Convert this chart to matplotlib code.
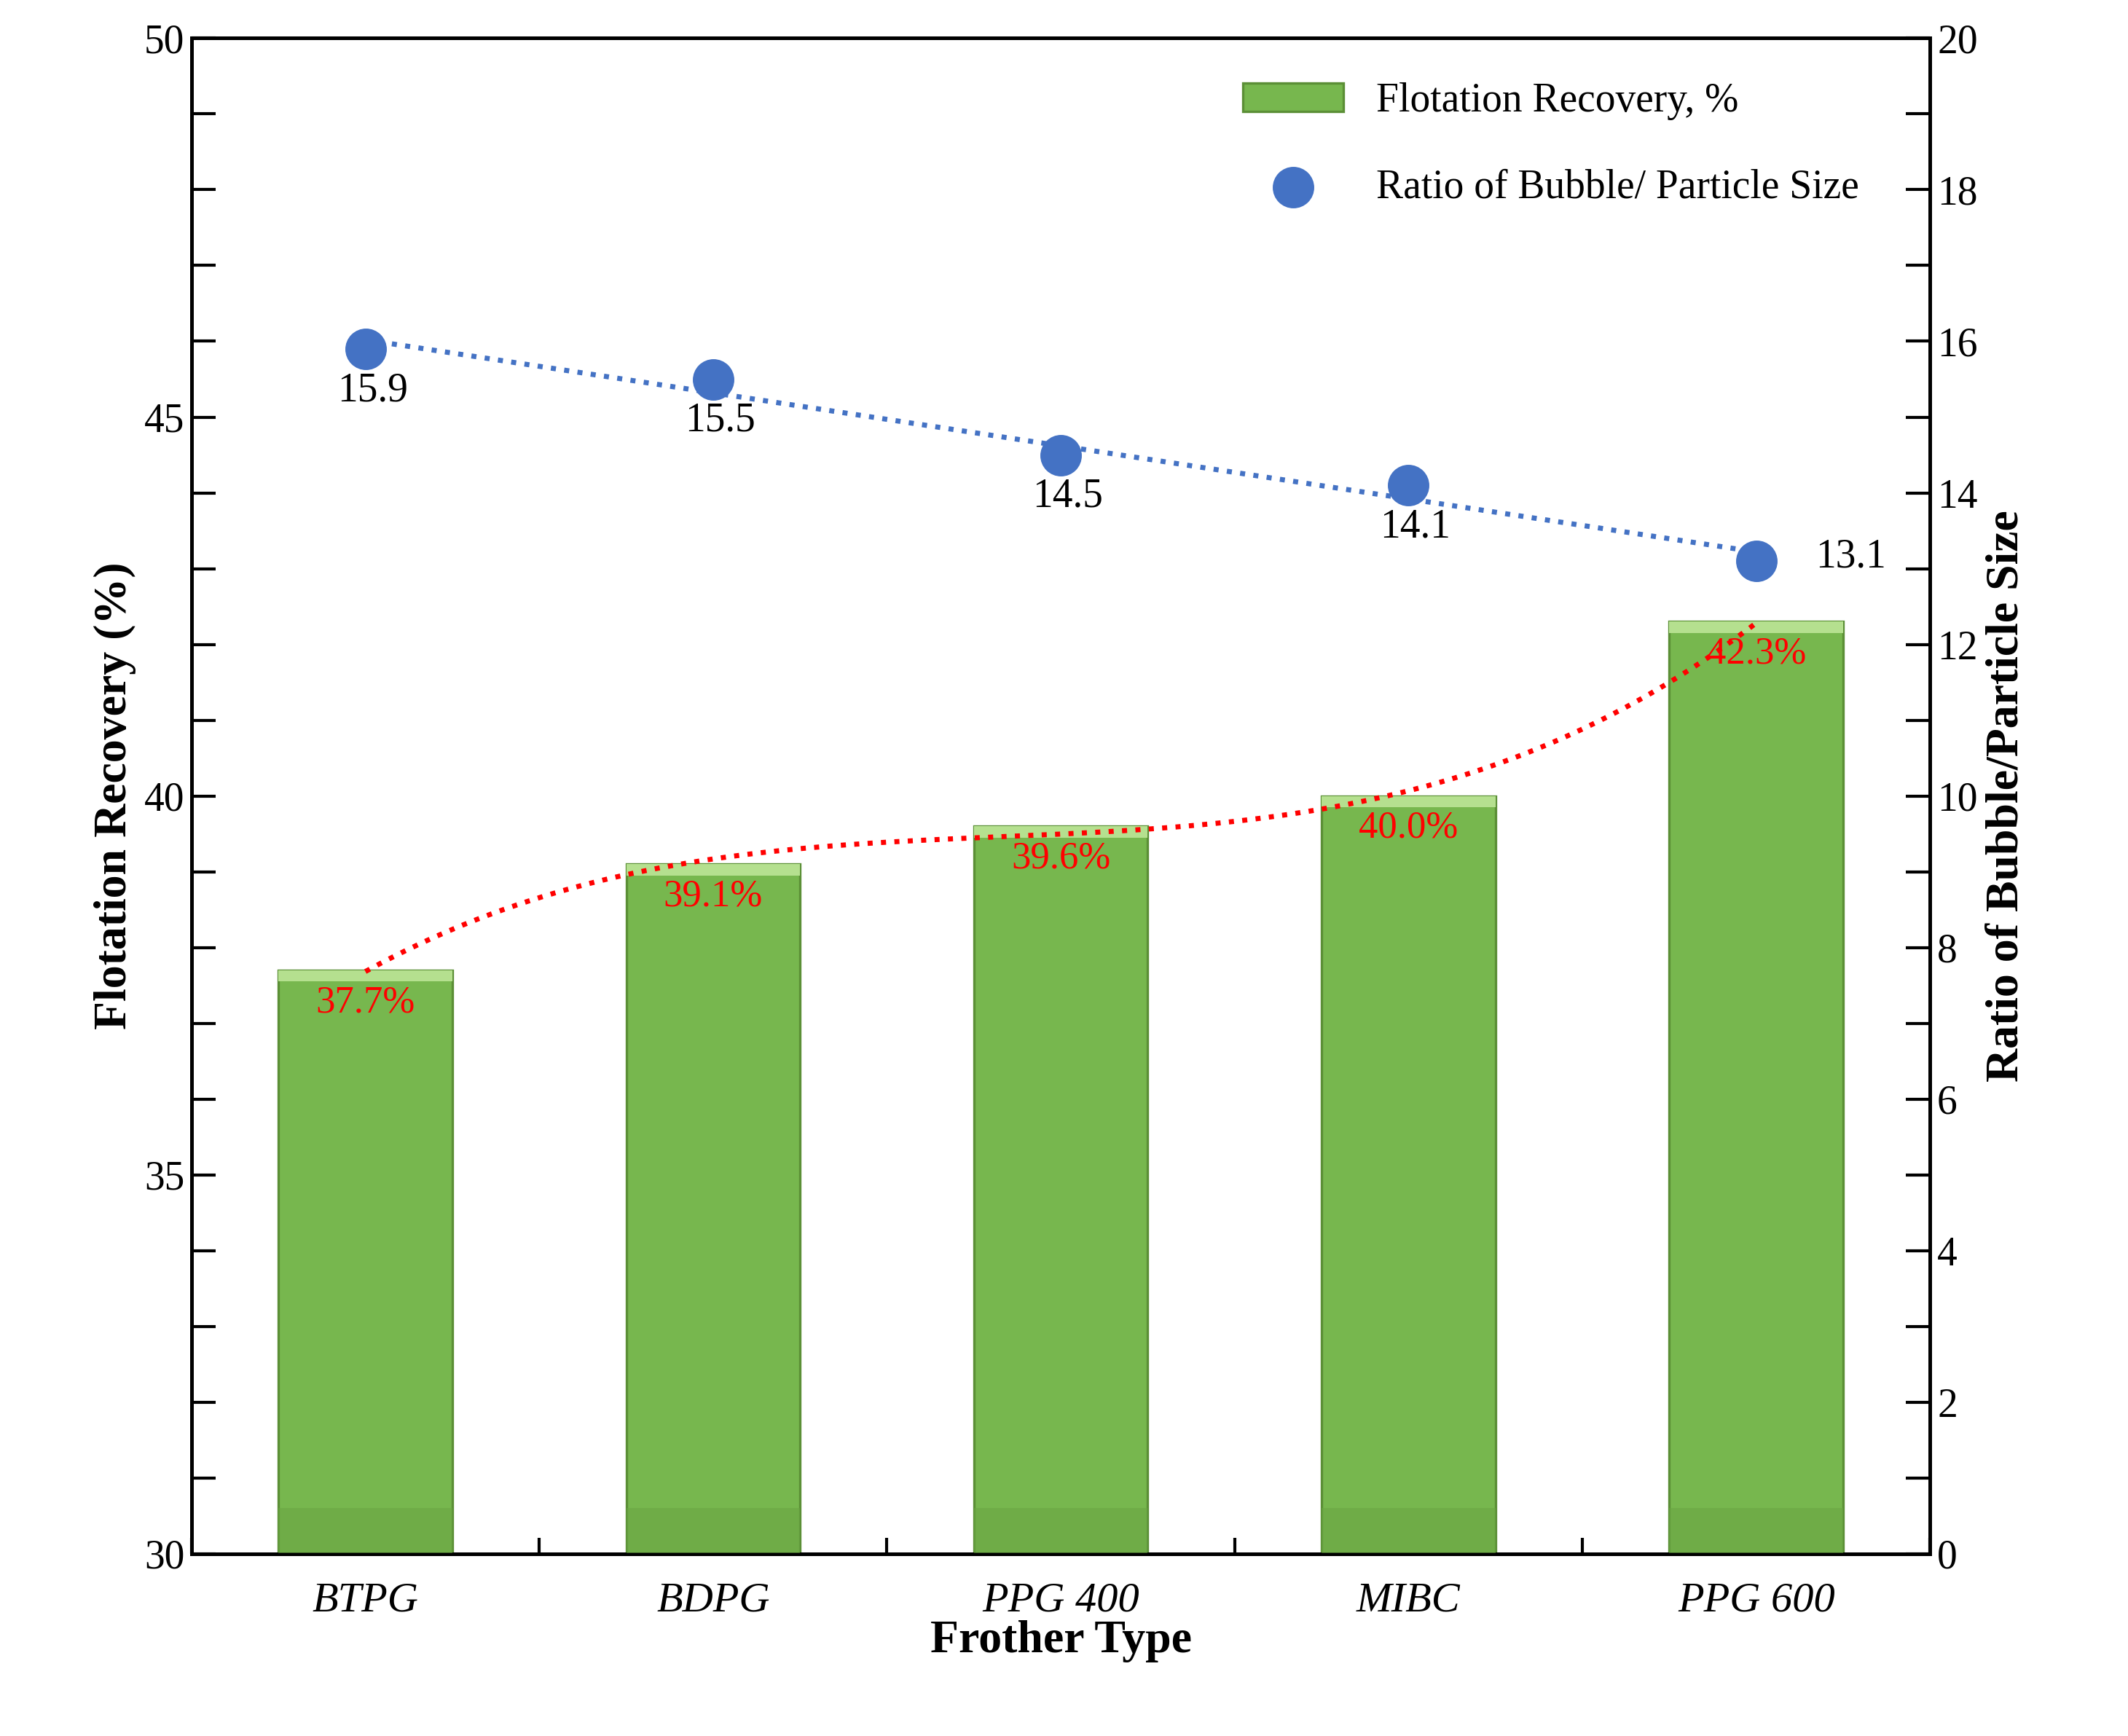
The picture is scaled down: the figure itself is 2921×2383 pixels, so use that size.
import numpy as np
import matplotlib.pyplot as plt
from matplotlib.ticker import MultipleLocator

frothers = ["BTPG", "BDPG", "PPG 400", "MIBC", "PPG 600"]
recovery = [37.7, 39.1, 39.6, 40.0, 42.3]
ratio = [15.9, 15.5, 14.5, 14.1, 13.1]

plt.rcParams["font.family"] = "Liberation Serif"
fig = plt.figure(figsize=(14.605, 11.915), dpi=200)
ax = fig.add_axes([0.09, 0.105, 0.817, 0.873])
x = np.arange(len(frothers))

# bars with a light top bevel
base = 30
ax.bar(x, np.array(recovery) - base, bottom=base, width=0.5, color="#77b74e",
       edgecolor="#5b8f36", linewidth=1.2, zorder=2, label="Flotation Recovery, %")
ax.bar(x, [0.15] * len(x), bottom=np.array(recovery) - 0.15, width=0.5,
       color="#b5e08f", edgecolor="none", zorder=3)
ax.bar(x, [0.6] * len(x), bottom=base, width=0.5, color="#6aa543",
       edgecolor="none", zorder=3, alpha=0.6)

# polynomial trendline for recovery
xs = np.linspace(0, 4, 200)
ax.plot(xs, np.polyval(np.polyfit(x, recovery, 3), xs), ":", color="red", lw=2.5, zorder=4)
for xi, v in zip(x, recovery):
    ax.text(xi, v - 0.55, f"{v:.1f}%", color="red", ha="center", fontsize=19, zorder=5)

ax.set_xlim(-0.5, 4.5)
ax.set_ylim(30, 50)
ax.yaxis.set_major_locator(MultipleLocator(5))
ax.yaxis.set_minor_locator(MultipleLocator(1))
ax.set_xticks(x)
ax.set_xticklabels(frothers, fontstyle="italic", fontsize=21)
ax.set_xticks(np.arange(-0.5, 4.6, 1), minor=True)
ax.tick_params(axis="x", which="major", length=0, pad=14)
ax.tick_params(axis="x", which="minor", direction="in", length=8, width=1.5)
ax.tick_params(axis="y", which="both", direction="in", labelsize=20, width=1.5)
ax.tick_params(axis="y", which="major", length=12)
ax.tick_params(axis="y", which="minor", length=12)
ax.set_xlabel("Frother Type", fontsize=23, fontweight="bold", labelpad=0)
ax.set_ylabel("Flotation Recovery (%)", fontsize=23, fontweight="bold")
for s in ax.spines.values():
    s.set_linewidth(1.8)

ax2 = ax.twinx()
ax2.set_ylim(0, 20)
ax2.yaxis.set_major_locator(MultipleLocator(2))
ax2.yaxis.set_minor_locator(MultipleLocator(1))
ax2.tick_params(axis="y", which="both", direction="in", labelsize=20, width=1.5, length=12)
ax2.scatter(x, ratio, s=380, color="#4472c4", zorder=6, label="Ratio of Bubble/ Particle Size")
ax2.plot(xs, np.polyval(np.polyfit(x, ratio, 1), xs), ":", color="#4472c4", lw=2.5, zorder=5)
for xi, v in zip(x, ratio):
    if xi == 4:
        ax2.text(xi + 0.17, v + 0.05, f"{v:.1f}", ha="left", va="center", fontsize=20)
    else:
        ax2.text(xi + 0.02, v - 0.55, f"{v:.1f}", ha="center", va="center", fontsize=20)
ax2.set_ylabel("Ratio of Bubble/Particle Size", fontsize=23, fontweight="bold")

h1, l1 = ax.get_legend_handles_labels()
h2, l2 = ax2.get_legend_handles_labels()
ax2.legend(h1 + h2, l1 + l2, loc="upper right", frameon=False, fontsize=20,
           labelspacing=1.2, handlelength=2.5, bbox_to_anchor=(0.98, 0.995))

fig.savefig("out.png", dpi=200)
